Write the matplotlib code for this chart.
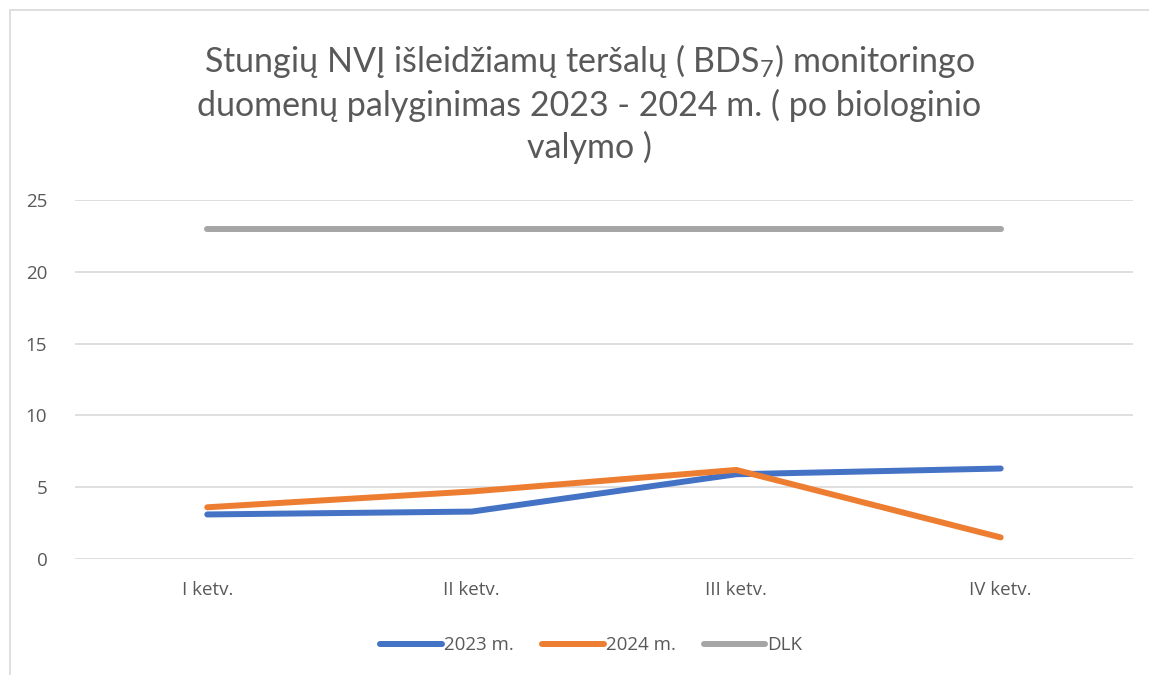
import matplotlib.pyplot as plt
from matplotlib.patches import Rectangle

# Data
quarters = ['I ketv.', 'II ketv.', 'III ketv.', 'IV ketv.']
bds_2023 = [3.1, 3.3, 5.9, 6.3]
bds_2024 = [3.6, 4.7, 6.2, 1.5]
dlk = [23, 23, 23, 23]
series_names = ['2023 m.', '2024 m.', 'DLK']

plt.rcParams['font.family'] = ['Open Sans', 'DejaVu Sans']
plt.rcParams['mathtext.default'] = 'regular'
txt_color = '#595959'

fig = plt.figure(figsize=(11.49, 6.75), dpi=100)
ax = fig.add_axes([0.0653, 0.1719, 0.9207, 0.5318])

x = range(len(quarters))
ax.plot(x, bds_2023, color='#4472C4', lw=4.3, solid_capstyle='round', label=series_names[0], zorder=3)
ax.plot(x, bds_2024, color='#ED7D31', lw=4.3, solid_capstyle='round', label=series_names[1], zorder=3)
ax.plot(x, dlk, color='#A5A5A5', lw=4.3, solid_capstyle='round', label=series_names[2], zorder=3)

ax.set_xlim(-0.5, 3.5)
ax.set_ylim(0, 25)
ax.set_yticks(range(0, 26, 5))
ax.set_xticks(list(x))
ax.set_xticklabels(quarters)
ax.grid(axis='y', color='#D9D9D9', lw=1.2)
ax.set_axisbelow(True)
for s in ax.spines.values():
    s.set_visible(False)
ax.tick_params(length=0, labelsize=13.5, labelcolor=txt_color)
ax.tick_params(axis='y', pad=20)
ax.tick_params(axis='x', pad=16)

fig.text(0.513, 0.847,
         'Stungių NVĮ išleidžiamų teršalų ( BDS$_7$) monitoringo\n'
         'duomenų palyginimas 2023 - 2024 m. ( po biologinio\n'
         'valymo )',
         ha='center', va='center', fontsize=24.5, color=txt_color,
         family=['Lato', 'DejaVu Sans'], linespacing=1.33)

ax.legend(loc='center', bbox_to_anchor=(0.488, -0.24), ncol=3, frameon=False,
          fontsize=13.5, labelcolor=txt_color, handlelength=3.3,
          handletextpad=0.1, columnspacing=1.5)

# chart area border
fig.patches.append(Rectangle((10 / 1149, -0.1), 1.2, 1.1 - 10 / 675,
                             transform=fig.transFigure, fill=False,
                             edgecolor='#D9D9D9', lw=1.2))

plt.savefig('out.png', dpi=100)
